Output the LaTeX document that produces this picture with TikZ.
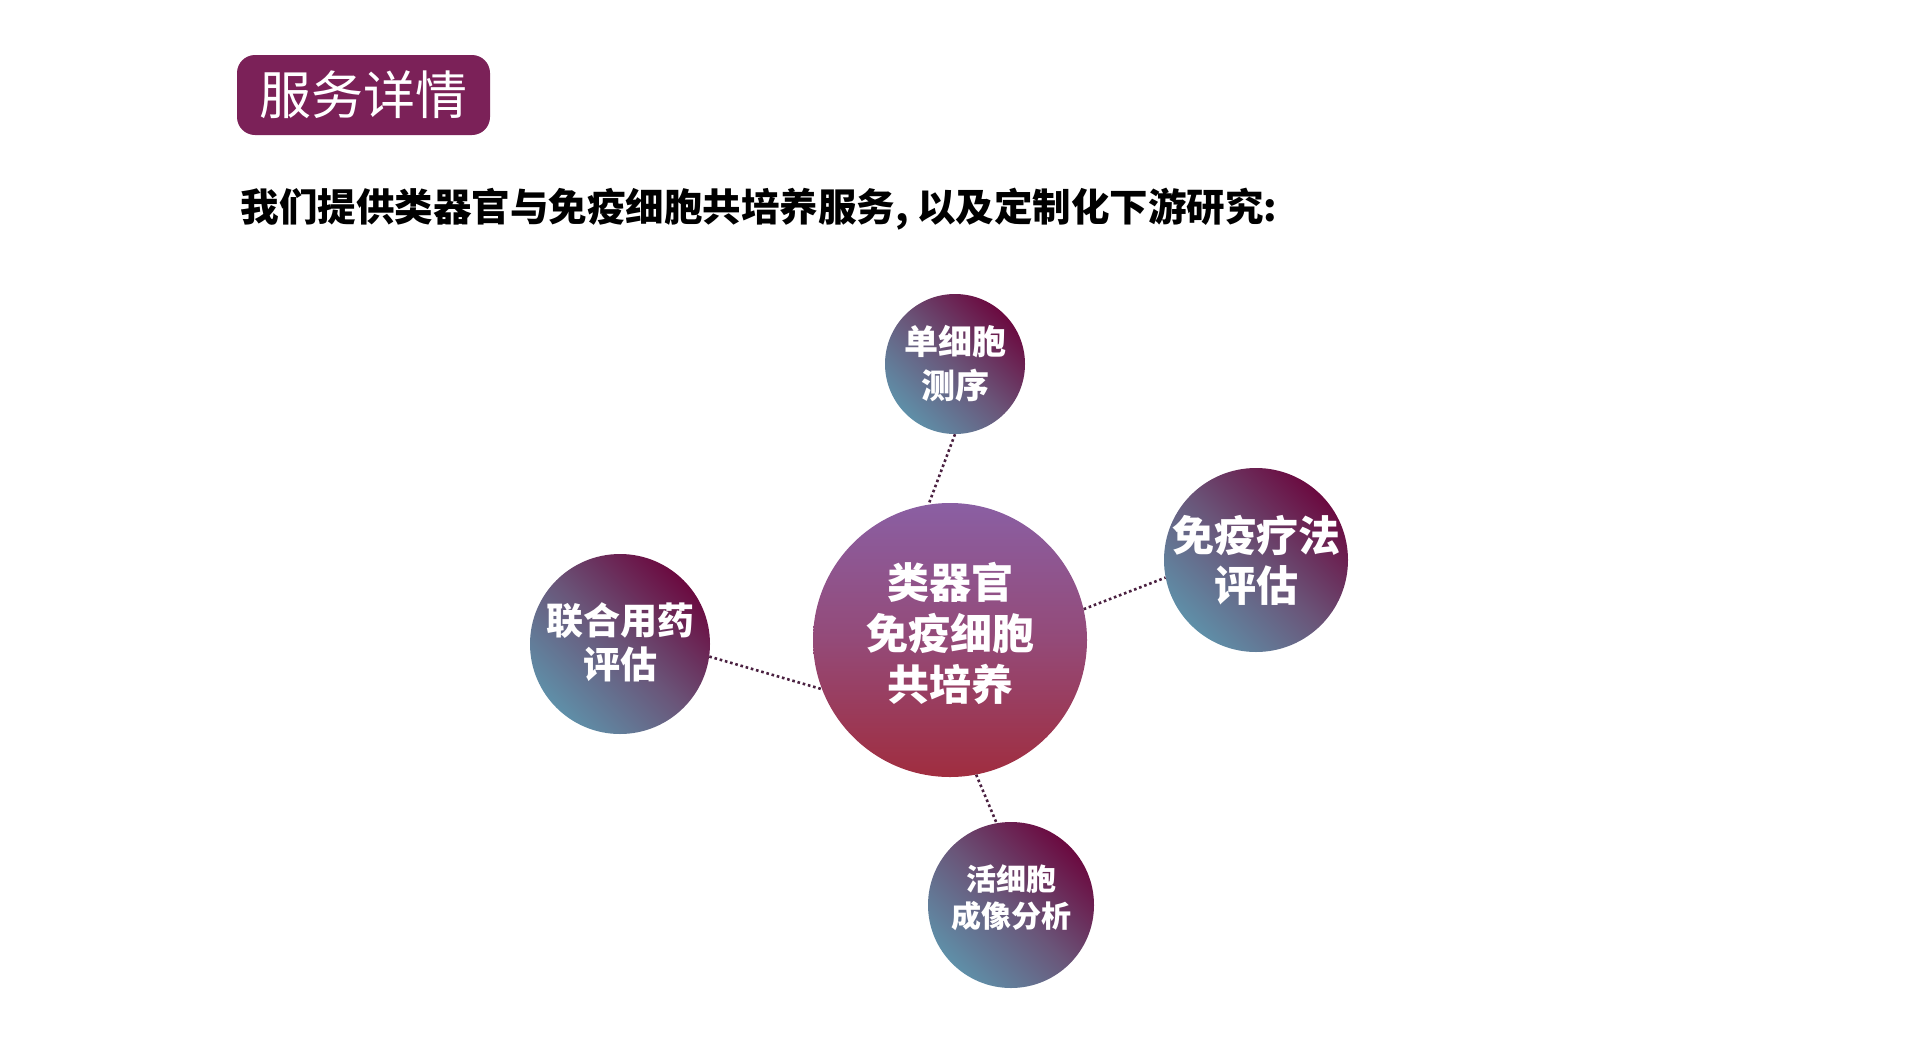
\documentclass[tikz,border=0pt]{standalone}
\usepackage{fontspec}
\usepackage{tikz}
\usepackage{xcolor}
\usetikzlibrary{shapes,positioning}
\newfontfamily\cjk{Noto Sans CJK SC}
\definecolor{plum}{RGB}{123, 33, 88}
\definecolor{wine}{RGB}{107, 10, 64}
\definecolor{dusk}{RGB}{106, 84, 120}
\definecolor{teal}{RGB}{95, 143, 168}
\definecolor{violet}{RGB}{138, 95, 163}
\definecolor{rose}{RGB}{148, 74, 120}
\definecolor{crimson}{RGB}{160, 45, 63}
\definecolor{linkc}{RGB}{74, 32, 64}
\tikzstyle{link} = [
    draw=linkc,
    line width=2.6pt,
    dash pattern=on 2.6pt off 2.8pt
]
\tikzstyle{bubble} = [
    circle,
    inner sep=0pt,
    shading=axis,
    top color=wine,
    bottom color=teal,
    middle color=dusk,
    shading angle=-45
]
\tikzstyle{hub} = [
    bubble,
    top color=violet,
    bottom color=crimson,
    middle color=rose
]
\tikzstyle{tag} = [
    align=center,
    text=white,
    inner sep=0pt
]
\begin{document}
\begin{tikzpicture}[x=1pt,y=-1pt]
        \useasboundingbox (0,0) rectangle (1920,1061);
        % Header
        \node[fill=plum, rounded corners=18pt, minimum width=253pt, minimum height=80pt,
              text=white, font=\cjk\fontsize{52}{60}\selectfont] (title) at (363.5,95) {服务详情};
        \node[anchor=west, font=\cjk\bfseries\fontsize{38.5}{44}\selectfont] (intro) at (237,209)
            {我们提供类器官与免疫细胞共培养服务, 以及定制化下游研究:};
        
        % Bubbles
        \node[hub, minimum size=274pt,
              label={[tag, yshift=7pt, font=\cjk\bfseries\fontsize{42}{51}\selectfont]center:{类器官\\免疫细胞\\共培养}}]
            (core) at (950,640) {};
        \node[bubble, minimum size=140pt,
              label={[tag, font=\cjk\bfseries\fontsize{34}{44}\selectfont]center:{单细胞\\测序}}]
            (scseq) at (955,364) {};
        \node[bubble, minimum size=184pt,
              label={[tag, font=\cjk\bfseries\fontsize{42}{50}\selectfont]center:{免疫疗法\\评估}}]
            (immuno) at (1256,560) {};
        \node[bubble, minimum size=180pt,
              label={[tag, yshift=2pt, font=\cjk\bfseries\fontsize{37}{44}\selectfont]center:{联合用药\\评估}}]
            (combo) at (620,644) {};
        \node[bubble, minimum size=166pt,
              label={[tag, yshift=7pt, font=\cjk\bfseries\fontsize{30}{37}\selectfont]center:{活细胞\\成像分析}}]
            (imaging) at (1011,905) {};
        
        % Links
        \draw[link] (scseq.south) -- (core.99);
        \draw[link] (core.13) -- (immuno.191);
        \draw[link] (combo.-8) -- (core.201);
        \draw[link] (core.-79) -- (imaging.100);
    \end{tikzpicture}
\end{document}
